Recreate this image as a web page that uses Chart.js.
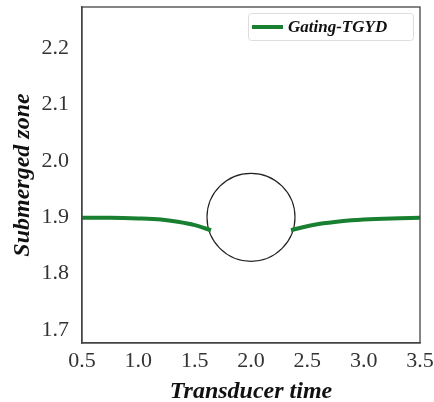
<!DOCTYPE html>
<html lang="en">
<head>
<meta charset="UTF-8">
<title>Gating-TGYD</title>
<style>
  html, body { margin: 0; padding: 0; background: #fff; }
  #wrap { width: 434px; height: 402px; }
</style>
</head>
<body>
<div id="wrap"><canvas id="myChart" width="434" height="402"></canvas></div>
<script src="https://cdn.jsdelivr.net/npm/chart.js@4.4.1/dist/chart.umd.min.js"></script>
<script>
// curve, left and right of the circle
var leftX = [0.5, 0.75, 1.0, 1.2, 1.35, 1.5, 1.645];
var leftY = [1.899, 1.899, 1.898, 1.896, 1.892, 1.886, 1.877];
var rightX = [2.355, 2.45, 2.6, 2.8, 3.0, 3.25, 3.5];
var rightY = [1.877, 1.882, 1.888, 1.893, 1.896, 1.898, 1.899];
var circleCenter = [2.0, 1.9];
var xTicks = [0.5, 1.0, 1.5, 2.0, 2.5, 3.0, 3.5];
var yTicks = [1.7, 1.8, 1.9, 2.0, 2.1, 2.2];
var seriesName = 'Gating-TGYD';

var green = 'rgb(24,128,48)';
var serif = '"Liberation Serif", "DejaVu Serif", serif';

var lineData = [];
for (var i = 0; i < leftX.length; i++) lineData.push({ x: leftX[i], y: leftY[i] });
lineData.push({ x: 2.0, y: null });
for (var j = 0; j < rightX.length; j++) lineData.push({ x: rightX[j], y: rightY[j] });

// frame + legend box drawn on the canvas
var framePlugin = {
  id: 'frame',
  afterDraw: function (chart) {
    var ctx = chart.ctx, a = chart.chartArea;
    ctx.save();
    ctx.strokeStyle = '#444';
    ctx.lineWidth = 1.3;
    ctx.strokeRect(a.left, a.top, a.right - a.left, a.bottom - a.top);

    // legend
    var bx = 248, by = 13, bw = 165, bh = 27;
    ctx.strokeStyle = '#ddd';
    ctx.lineWidth = 1;
    ctx.beginPath();
    ctx.roundRect(bx + 0.5, by + 0.5, bw, bh, 3);
    ctx.stroke();
    ctx.strokeStyle = green;
    ctx.lineWidth = 4;
    ctx.beginPath();
    ctx.moveTo(252, by + bh / 2 + 0.5);
    ctx.lineTo(283, by + bh / 2 + 0.5);
    ctx.stroke();
    ctx.fillStyle = '#111';
    ctx.font = 'italic bold 17px ' + serif;
    ctx.textBaseline = 'middle';
    ctx.fillText(chart.data.datasets[0].label, 288, by + bh / 2 + 1);
    ctx.restore();
  }
};

var ctx = document.getElementById('myChart').getContext('2d');
var myChart = new Chart(ctx, {
  type: 'scatter',
  data: {
    datasets: [
      {
        label: seriesName,
        data: lineData,
        showLine: true,
        spanGaps: false,
        borderColor: green,
        borderWidth: 4,
        pointRadius: 0,
        cubicInterpolationMode: 'monotone'
      },
      {
        label: 'circle',
        data: [{ x: circleCenter[0], y: circleCenter[1] }],
        pointRadius: 44,
        pointHoverRadius: 44,
        pointBorderColor: '#222',
        pointBorderWidth: 1.2,
        pointBackgroundColor: 'rgba(0,0,0,0)'
      }
    ]
  },
  options: {
    responsive: false,
    animation: false,
    layout: { autoPadding: false, padding: { left: 0, right: 14, top: 7, bottom: 0 } },
    plugins: {
      legend: { display: false },
      tooltip: { enabled: false }
    },
    scales: {
      x: {
        type: 'linear',
        min: 0.5,
        max: 3.5,
        afterBuildTicks: function (s) { s.ticks = xTicks.map(function (v) { return { value: v }; }); },
        afterFit: function (s) { s.height = 59; s.paddingLeft = 0; s.paddingRight = 0; },
        grid: { display: false, drawOnChartArea: false, drawTicks: true, tickLength: 5, tickColor: '#444' },
        border: { display: true, color: '#444', width: 1.3 },
        ticks: {
          color: '#333',
          padding: 0,
          font: { family: serif, size: 22 },
          callback: function (v) { return v.toFixed(1); }
        },
        title: {
          display: true,
          text: 'Transducer time',
          color: '#111',
          padding: { top: 0, bottom: -4 },
          font: { family: serif, size: 24, style: 'italic', weight: 'bold' }
        }
      },
      y: {
        type: 'linear',
        min: 1.677,
        max: 2.273,
        afterBuildTicks: function (s) { s.ticks = yTicks.map(function (v) { return { value: v }; }); },
        afterFit: function (s) { s.width = 82; s.paddingTop = 0; s.paddingBottom = 0; },
        grid: { display: false, drawOnChartArea: false, drawTicks: true, tickLength: 5, tickColor: '#444' },
        border: { display: true, color: '#444', width: 1.3 },
        ticks: {
          color: '#333',
          padding: 8,
          font: { family: serif, size: 22 },
          callback: function (v) { return v.toFixed(1); }
        },
        title: {
          display: true,
          text: 'Submerged zone',
          color: '#111',
          padding: { top: 8, bottom: 0 },
          font: { family: serif, size: 24, style: 'italic', weight: 'bold' }
        }
      }
    }
  },
  plugins: [framePlugin]
});
</script>
</body>
</html>
